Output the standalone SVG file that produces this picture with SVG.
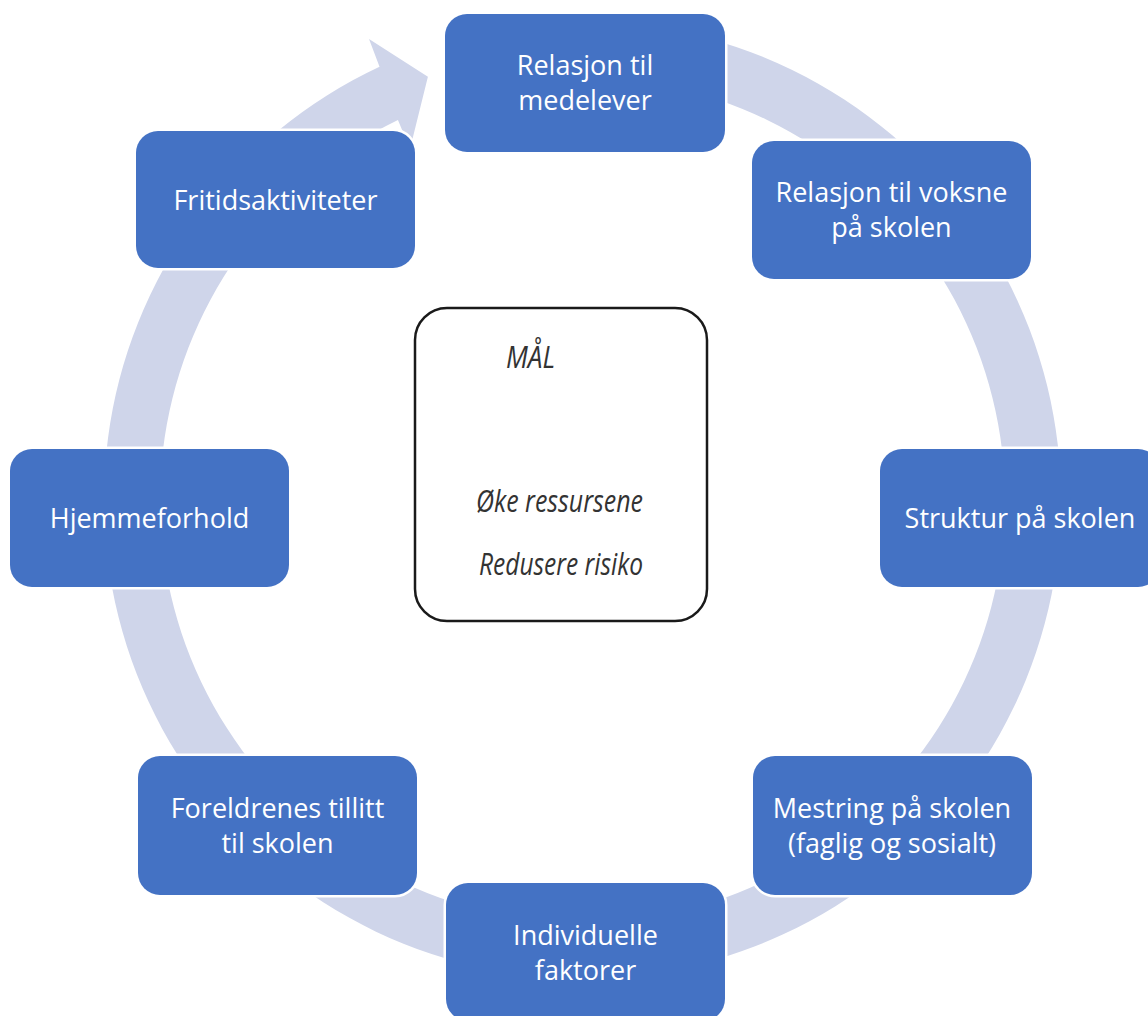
<svg xmlns="http://www.w3.org/2000/svg" width="1148" height="1016" viewBox="0 0 1148 1016">
  <style>
    .node rect { fill: #4472C4; stroke: #FFFFFF; stroke-width: 5; paint-order: stroke; }
    .node text { font-family: "Open Sans", "Liberation Sans", sans-serif; font-size: 27px; fill: #FFFFFF; text-anchor: middle; }
    .ring { fill: #CFD5EA; stroke: none; }
    .goal rect { fill: #FFFFFF; stroke: #1A1A1A; stroke-width: 2.5; }
    .goal text { font-family: "Open Sans", "Liberation Sans", sans-serif; font-style: italic; font-size: 31px; fill: #333333; }
  </style>
  <rect width="1148" height="1016" fill="#FFFFFF"/>

  <!-- circular cycle arrow behind the nodes -->
  <g id="connectors">
    <path class="ring" d="M 499.41 28.77 A 478.5 478.5 0 1 1 379.52 66.68 L 369.02 39.04 L 427.91 76.86 L 410 149 L 397.95 119.94 A 422.5 422.5 0 1 0 509.13 83.92 Z"/>
  </g>

  <!-- cycle nodes -->
  <g id="node-relasjon-medelever" class="node">
    <rect x="445" y="14" width="280" height="138" rx="22"/>
    <text x="585" y="75">Relasjon til</text>
    <text x="585" y="110">medelever</text>
  </g>
  <g id="node-relasjon-voksne" class="node">
    <rect x="752" y="141" width="279" height="138" rx="22"/>
    <text x="891.5" y="202">Relasjon til voksne</text>
    <text x="891.5" y="237">på skolen</text>
  </g>
  <g id="node-struktur" class="node">
    <rect x="880" y="449" width="280" height="138" rx="22"/>
    <text x="1020" y="528">Struktur på skolen</text>
  </g>
  <g id="node-mestring" class="node">
    <rect x="753" y="756" width="279" height="139" rx="22"/>
    <text x="892" y="817.5">Mestring på skolen</text>
    <text x="892" y="852.5">(faglig og sosialt)</text>
  </g>
  <g id="node-individuelle" class="node">
    <rect x="446" y="883" width="279" height="138" rx="22"/>
    <text x="585.5" y="945">Individuelle</text>
    <text x="585.5" y="980">faktorer</text>
  </g>
  <g id="node-foreldrenes-tillitt" class="node">
    <rect x="138" y="756" width="279" height="139" rx="22"/>
    <text x="277.5" y="817.5">Foreldrenes tillitt</text>
    <text x="277.5" y="852.5">til skolen</text>
  </g>
  <g id="node-hjemmeforhold" class="node">
    <rect x="10" y="449" width="279" height="138" rx="22"/>
    <text x="149.5" y="528">Hjemmeforhold</text>
  </g>
  <g id="node-fritidsaktiviteter" class="node">
    <rect x="136" y="131" width="279" height="137" rx="22"/>
    <text x="275.5" y="209.5">Fritidsaktiviteter</text>
  </g>

  <!-- central goal box -->
  <g id="node-maal" class="goal">
    <rect x="415" y="308" width="292" height="313" rx="32"/>
    <text x="506" y="368" textLength="49" lengthAdjust="spacingAndGlyphs">MÅL</text>
    <text x="476" y="512" textLength="167" lengthAdjust="spacingAndGlyphs">Øke ressursene</text>
    <text x="479" y="575" textLength="164" lengthAdjust="spacingAndGlyphs">Redusere risiko</text>
  </g>
</svg>
